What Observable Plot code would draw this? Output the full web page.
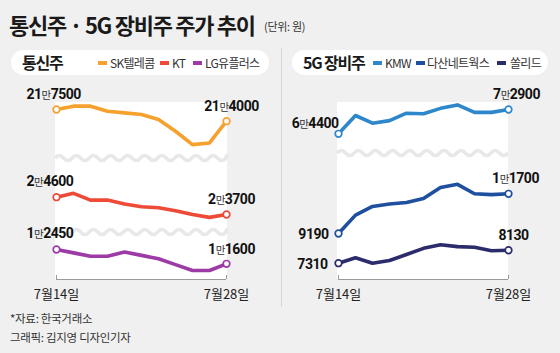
<!DOCTYPE html>
<html><head><meta charset="utf-8">
<script src="https://cdn.jsdelivr.net/npm/d3@7"></script>
<script src="https://cdn.jsdelivr.net/npm/@observablehq/plot@0.6"></script>
<style>
html,body{margin:0;padding:0;background:#f0f0f0;}
#root{position:relative;width:560px;height:353px;overflow:hidden;background:#f0f0f0;font-family:"Noto Sans CJK KR",sans-serif;color:#222;}
.abs{position:absolute;white-space:nowrap;}
.title{left:9px;top:10px;font-size:22px;font-weight:700;letter-spacing:-1.3px;line-height:28px;color:#1a1a1a;}
.unit{left:264px;top:19px;font-size:11px;line-height:14px;color:#333;letter-spacing:-0.3px;}
.pill{background:#fff;border-radius:13px;height:25px;top:50px;}
.ph{top:50px;height:25px;line-height:25px;font-size:16px;font-weight:700;letter-spacing:-1.2px;color:#1a1a1a;}
.sw{top:61px;width:9px;height:4px;}
.lt{top:50px;height:25px;line-height:25px;font-size:12px;letter-spacing:-0.7px;color:#333;}
.plotbg{background:#fff;}
.foot{left:10px;font-size:11.5px;line-height:14px;color:#333;letter-spacing:-0.3px;}
.divider{left:281px;top:48px;width:1px;height:259px;background:#d6d6d6;}
</style></head>
<body><div id="root">
  <div class="abs title">통신주 · 5G 장비주 주가 추이</div>
  <div class="abs unit">(단위: 원)</div>

  <div class="abs pill" style="left:11px;width:258px;"></div>
  <div class="abs pill" style="left:292px;width:256px;"></div>
  <div class="abs ph" style="left:22px;">통신주</div>
  <div class="abs ph" style="left:303px;">5G 장비주</div>
  <div id="legend"></div>

  <div class="abs plotbg" style="left:55px;top:102px;width:172px;height:177px;"></div>
  <div class="abs plotbg" style="left:337px;top:102px;width:171px;height:177px;"></div>
  <div class="abs divider"></div>
  <svg id="waves" class="abs" width="560" height="353" style="left:0;top:0;"></svg>

  <div id="plots"></div>

  <div class="abs foot" style="top:311px;">*자료: 한국거래소</div>
  <div class="abs foot" style="top:330px;">그래픽: 김지영 디자인기자</div>
</div>
<script>
// ---------- data ----------
const dates = ["7/14","7/15","7/16","7/17","7/20","7/21","7/22","7/23","7/24","7/27","7/28"];
const skTelecom = [217500, 218500, 218500, 217000, 216500, 216000, 214500, 211000, 207000, 207500, 214000];
const kt        = [24600, 24800, 24450, 24450, 24250, 24100, 24050, 23900, 23700, 23550, 23700];
const lgUplus   = [12450, 12250, 12050, 12050, 12300, 12100, 11900, 11550, 11200, 11200, 11600];
const kmw       = [64400, 70800, 68100, 69000, 71600, 71400, 73300, 74500, 71900, 71900, 72900];
const dasan     = [9190, 10350, 10900, 11050, 11150, 11400, 12100, 12300, 11700, 11650, 11700];
const solid     = [7310, 7650, 7310, 7480, 7860, 8250, 8480, 8360, 8320, 8100, 8130];
const seriesNames = ["SK텔레콤", "KT", "LG유플러스", "KMW", "다산네트웍스", "쏠리드"];
const axisLabels = ["7월14일", "7월28일"];

const colors = {
  "SK텔레콤": "#f6a12e", "KT": "#ee4a37", "LG유플러스": "#9c3aa6",
  "KMW": "#2f87cb", "다산네트웍스": "#1f4f9f", "쏠리드": "#2c2b6c"
};

// ---------- legend ----------
const legendPos = [[98,110],[160,172],[193,205],[373,385],[416,427],[497,510]];
const lg = document.getElementById("legend");
seriesNames.forEach((n, i) => {
  const sw = document.createElement("div");
  sw.className = "abs sw"; sw.style.left = legendPos[i][0] + "px"; sw.style.background = colors[n];
  const t = document.createElement("div");
  t.className = "abs lt"; t.style.left = legendPos[i][1] + "px"; t.textContent = n;
  lg.appendChild(sw); lg.appendChild(t);
});

// ---------- waves (decoration) ----------
function wave(x0, x1, y) {
  const half = 8.55; let d = `M${x0},${y}`; let up = true;
  for (let x = x0; x < x1 - 0.1; x += half) {
    const xe = Math.min(x + half, x1);
    d += ` Q${(x + xe) / 2},${up ? y - 5 : y + 5} ${xe},${y}`; up = !up;
  }
  return d;
}
const wv = document.getElementById("waves");
[[55,227,158],[55,227,232],[337,508,153]].forEach(([a,b,y]) => {
  const p = document.createElementNS("http://www.w3.org/2000/svg","path");
  p.setAttribute("d", wave(a,b,y)); p.setAttribute("fill","none");
  p.setAttribute("stroke","#e8e8e8"); p.setAttribute("stroke-width","3.5");
  wv.appendChild(p);
});

// ---------- plots ----------
const W = 560, H = 353;
const fmt = v => v >= 10000 ? Math.floor(v / 10000) + "만" + String(v % 10000).padStart(4, "0") : String(v);
const rowsOf = (name, vals) => vals.map((v, i) => ({name, date: dates[i], value: v}));
const numFont = {fontFamily: "Roboto, 'Liberation Sans', sans-serif", fontWeight: 700, fontSize: 14, fill: "#111"};

function seriesMarks(name, vals, first, last) {
  const rows = rowsOf(name, vals);
  const ends = [rows[0], rows[rows.length - 1]];
  const c = colors[name];
  return [
    Plot.line(rows, {x: "date", y: "value", stroke: c, strokeWidth: 3.6, strokeLinejoin: "round", strokeLinecap: "round"}),
    Plot.dot(ends, {x: "date", y: "value", r: 3.3, fill: "white", stroke: c, strokeWidth: 1.7}),
    Plot.text([rows[0]], {x: "date", y: "value", text: d => fmt(d.value), textAnchor: first[0], dx: first[1], dy: first[2], ...numFont}),
    Plot.text([rows[rows.length - 1]], {x: "date", y: "value", text: d => fmt(d.value), textAnchor: last[0], dx: last[1], dy: last[2], ...numFont})
  ];
}

function layer(xRange, yDomain, yRange, marks) {
  return Plot.plot({
    width: W, height: H, margin: 0,
    style: "background: transparent; overflow: visible; position: absolute; left: 0; top: 0;",
    x: {type: "point", domain: dates, range: xRange, padding: 0, axis: null},
    y: {domain: yDomain, range: yRange, axis: null},
    marks
  });
}

const L = [55, 226], R = [337, 508];
const layers = [
  layer(L, [214000, 217500], [120.7, 109], seriesMarks("SK텔레콤", skTelecom, ["start", -30, -15], ["middle", 5, -14.5])),
  layer(L, [23700, 24600], [214, 196.7], seriesMarks("KT", kt, ["start", -30, -16], ["middle", 5, -14.5])),
  layer(L, [11600, 12450], [263.3, 249], seriesMarks("LG유플러스", lgUplus, ["start", -30, -15.5], ["middle", 5, -14])),
  layer(R, [64400, 72900], [133.3, 109], seriesMarks("KMW", kmw, ["end", 0, -10], ["middle", 8, -14.5])),
  layer(R, [7310, 11700], [262.7, 193.3], [
    ...seriesMarks("다산네트웍스", dasan, ["end", -10, 1], ["middle", 7, -15]),
    ...seriesMarks("쏠리드", solid, ["end", -11, 1], ["middle", 5, -14.5])
  ])
];

function axisLayer(xRange) {
  const ends = [dates[0], dates[dates.length - 1]];
  return layer(xRange, [0, 1], [279, 275], [
    Plot.ruleY([0], {x1: [ends[0]], x2: [ends[1]], stroke: "#9a9a9a", strokeWidth: 1}),
    Plot.ruleX(ends, {y1: 0, y2: 1, stroke: "#9a9a9a", strokeWidth: 1}),
    Plot.text(ends, {x: d => d, y: 0, text: (d, i) => axisLabels[i], dy: 15, fontSize: 13, fontFamily: "Noto Sans CJK KR", fill: "#222"})
  ]);
}
layers.push(axisLayer(L), axisLayer(R));

const host = document.getElementById("plots");
layers.forEach(svg => {
  host.appendChild(svg);
  svg.querySelectorAll('g[aria-label="text"] text').forEach(t => {
    const s = t.textContent;
    const i = s.indexOf("만");
    if (i >= 0) {
      t.textContent = "";
      const mk = (str, attrs) => {
        const ts = document.createElementNS("http://www.w3.org/2000/svg", "tspan");
        ts.textContent = str;
        for (const k in attrs) ts.setAttribute(k, attrs[k]);
        t.appendChild(ts);
      };
      mk(s.slice(0, i), {});
      mk("만", {"font-size": 10.5, "font-weight": 400, "font-family": "Noto Sans CJK KR", "fill": "#333"});
      mk(s.slice(i + 1), {});
    }
    if (/\d/.test(s) && !s.includes("월")) t.setAttribute("letter-spacing", "-0.5");
  });
});
</script>
</body></html>
